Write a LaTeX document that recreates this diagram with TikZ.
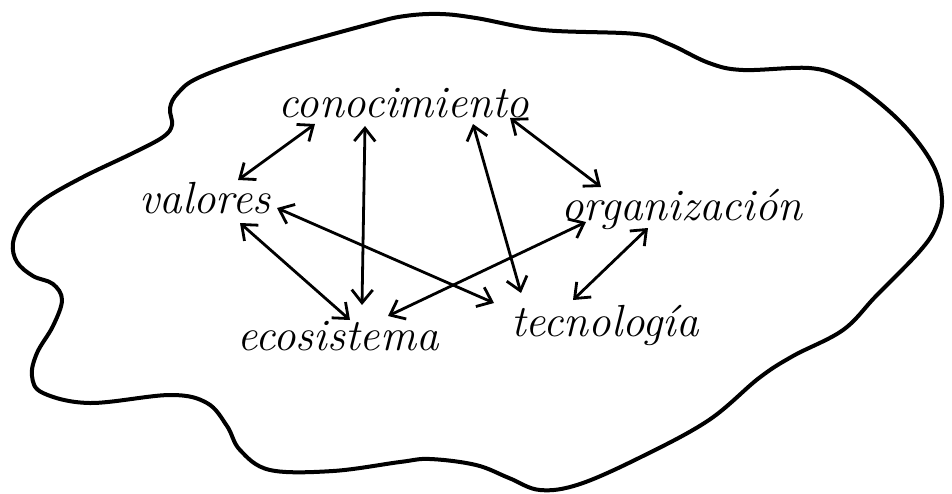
\documentclass[tikz,border=0pt]{standalone}
\usepackage{fontspec}
\usetikzlibrary{arrows.meta}
\begin{document}
\begin{tikzpicture}[x=1pt,y=-1pt,
    palabra/.style={anchor=base,inner sep=0pt,font=\fontsize{45}{50}\selectfont\itshape},
    flecha/.style={<->,>={Straight Barb[length=13pt,width=21pt,line width=2.8pt]},line width=2.8pt,line cap=round}]
            \useasboundingbox (0,0) rectangle (952,493);
            \draw[line width=4pt,line cap=round,line join=round] plot[smooth cycle,tension=0.6] coordinates {
                (440,14) (476,18) (543,30) (636,34) (669,44) (709,63) (743,70) (809,68) (843,78) (876,100)
                (909,131) (934,167) (942,200) (936,227) (919,252) (876,296) (843,330) (793,356) (759,378)
                (709,420) (643,456) (580,484) (540,490) (509,478) (476,465) (430,459) (400,462) (333,471) (270,470)
                (240,450) (227,426) (207,403) (170,395) (90,403) (43,393) (32,376) (37,353) (53,326)
                (62,300) (53,284) (33,276) (17,262) (13,243) (23,220) (43,200) (83,177) (133,153)
                (163,137) (172,125) (170,108) (178,93) (200,77) (267,53) (370,24) (405,16)}; %contorno
            \node[palabra] (con) at (404,117) {conocimiento}; %arriba
            \node[palabra] (val) at (205,213) {valores}; %izquierda
            \node[palabra] (org) at (682,220) {organización}; %derecha
            \node[palabra] (eco) at (338,350) {ecosistema}; %abajo izq.
            \node[palabra] (tec) at (605,336) {tecnología}; %abajo der.
            \draw[flecha] ([shift={(-89,7)}]con.base) -- ([shift={(33,-33)}]val.base);
            \draw[flecha] ([shift={(-39,9)}]con.base) -- ([shift={(24,-45)}]eco.base);
            \draw[flecha] ([shift={(69,7)}]con.base) -- ([shift={(-84,-43)}]tec.base);
            \draw[flecha] ([shift={(106,1)}]con.base) -- ([shift={(-81,-33)}]org.base);
            \draw[flecha] ([shift={(35,10)}]val.base) -- ([shift={(12,-30)}]eco.base);
            \draw[flecha] ([shift={(72,-5)}]val.base) -- ([shift={(-111,-33)}]tec.base);
            \draw[flecha] ([shift={(-96,2)}]org.base) -- ([shift={(50,-34)}]eco.base);
            \draw[flecha] ([shift={(-34,8)}]org.base) -- ([shift={(-32,-36)}]tec.base);
        \end{tikzpicture}
\end{document}
